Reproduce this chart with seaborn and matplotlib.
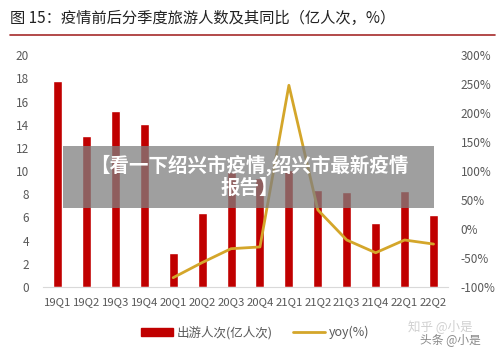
import matplotlib
matplotlib.use("Agg")
import matplotlib.pyplot as plt
import numpy as np
import pandas as pd
import seaborn as sns
from matplotlib.patches import Patch, Rectangle
from matplotlib.lines import Line2D
from matplotlib.ticker import FuncFormatter

# data
quarters = ['19Q1', '19Q2', '19Q3', '19Q4', '20Q1', '20Q2', '20Q3',
            '20Q4', '21Q1', '21Q2', '21Q3', '21Q4', '22Q1', '22Q2']
trips = [17.8, 13.0, 15.2, 14.1, 2.9, 6.4, 9.9, 9.4, 10.1, 8.4, 8.2, 5.5, 8.3, 6.2]
yoy_quarters = quarters[4:]
yoy = [-84, -58, -34, -31, 248, 33, -19, -41, -19, -26]

sns.set_style("white")
plt.rcParams['font.family'] = ['Noto Sans CJK SC', 'DejaVu Sans']

bar_color = '#C00000'
line_color = '#D4A62A'
text_gray = '#595959'

df = pd.DataFrame({'quarter': quarters, 'trips': trips})
df['pos'] = np.arange(len(quarters))
df_yoy = pd.DataFrame({'quarter': yoy_quarters, 'yoy': yoy})
df_yoy['pos'] = df.set_index('quarter').loc[yoy_quarters, 'pos'].values

fig = plt.figure(figsize=(5, 3.56), dpi=100)
ax = fig.add_axes([0.086, 0.194, 0.81, 0.651])

sns.barplot(data=df, x='pos', y='trips', color=bar_color, width=0.31,
            native_scale=True, ax=ax, saturation=1)
ax.set_xlim(-0.5, len(quarters) - 0.5)
ax.set_ylim(0, 20)
ax.set_yticks(range(0, 21, 2))
ax.set_xticks(df['pos'])
ax.set_xticklabels(quarters)
ax.set_xlabel('')
ax.set_ylabel('')

ax2 = ax.twinx()
sns.lineplot(data=df_yoy, x='pos', y='yoy', color=line_color, linewidth=2.0, ax=ax2)
ax2.set_ylim(-100, 300)
ax2.set_yticks(range(-100, 301, 50))
ax2.yaxis.set_major_formatter(FuncFormatter(lambda v, p: f'{int(v)}%'))
ax2.set_ylabel('')
ax2.set_xlabel('')

for a in (ax, ax2):
    for s in a.spines.values():
        s.set_visible(False)
    a.tick_params(axis='both', length=0, labelsize=8.5, colors=text_gray, pad=4)
ax.spines['bottom'].set_visible(True)
ax.spines['bottom'].set_color('#D9D9D9')
ax.tick_params(axis='x', pad=7, labelsize=8.2)
ax.tick_params(axis='y', pad=10)
ax2.tick_params(axis='y', pad=9)

# title with underline
fig.text(0.02, 0.948, '图 15：疫情前后分季度旅游人数及其同比（亿人次，%）',
         fontsize=11, color='#222222', va='center', ha='left')
fig.add_artist(Line2D([0.02, 0.99], [0.903, 0.903], color='#A52A2A', linewidth=1.2))

# legend
handles = [Patch(facecolor=bar_color, edgecolor=bar_color),
           Line2D([0], [0], color=line_color, linewidth=2.0)]
fig.legend(handles, ['出游人次(亿人次)', 'yoy(%)'], loc='center',
           bbox_to_anchor=(0.51, 0.066), ncol=2, frameon=False, fontsize=9,
           labelcolor=text_gray, handlelength=2.6, handleheight=0.6,
           columnspacing=1.6, handletextpad=0.3)

# overlay banner
fig.add_artist(Rectangle((0.126, 0.416), 0.742, 0.174, transform=fig.transFigure,
                         facecolor='#7F7F7F', alpha=0.75, edgecolor='none'))
fig.text(0.499, 0.505, '【看一下绍兴市疫情,绍兴市最新疫情\n报告】', fontsize=14,
         fontweight='bold', color='white', ha='center', va='center', linespacing=1.2)

# watermarks
fig.text(0.815, 0.085, '知乎 @小是', fontsize=9, color='#D0D0D0', ha='left', va='center')
fig.text(0.84, 0.045, '头条 @小是', fontsize=8.5, color='#8A8A8A', ha='left', va='center')

fig.savefig('out.png', dpi=100)
